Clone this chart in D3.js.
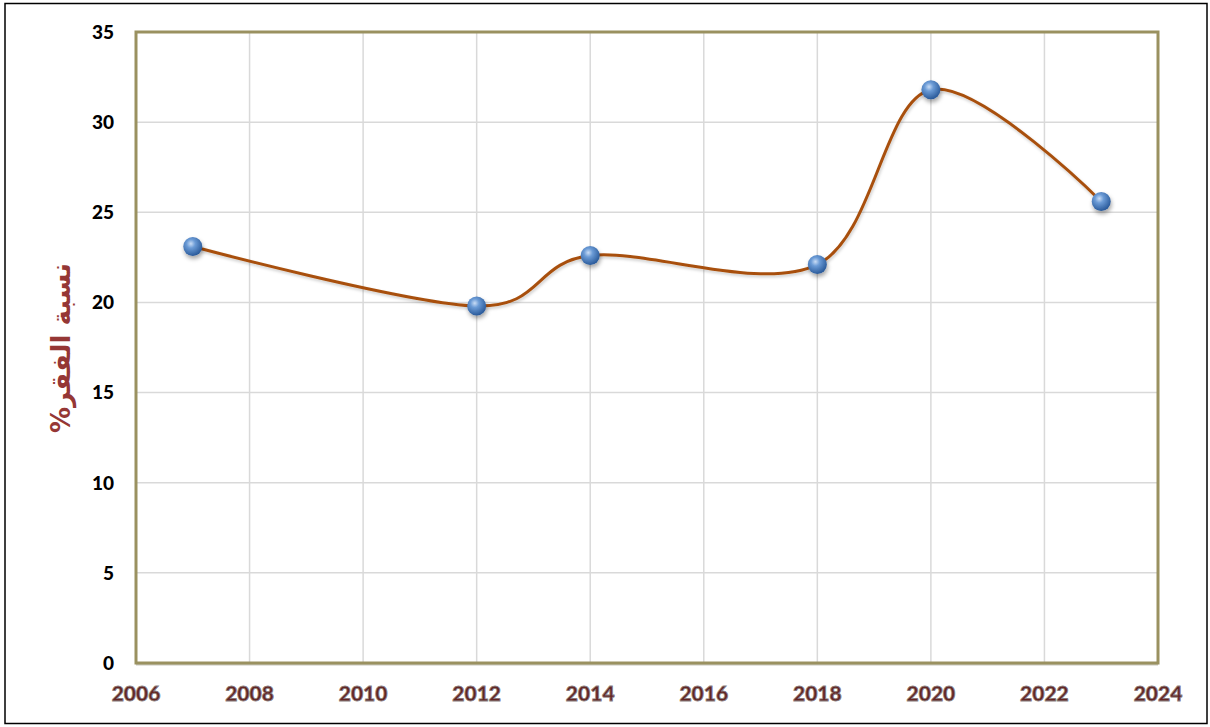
<!DOCTYPE html>
<html><head><meta charset="utf-8">
<script src="https://cdn.jsdelivr.net/npm/d3@7"></script>
<style>body{margin:0;background:#fff}svg{display:block}</style>
</head><body>
<svg id="chart" width="1210" height="727"></svg>
<script>
const years = [2007, 2012, 2014, 2018, 2020, 2023];
const povertyRate = [23.1, 19.8, 22.6, 22.1, 31.8, 25.6];
const xTicks = [2006, 2008, 2010, 2012, 2014, 2016, 2018, 2020, 2022, 2024];
const yTicks = [0, 5, 10, 15, 20, 25, 30, 35];
const yTitle = "نسبة الفقر%";

const svg = d3.select("#chart");
const L = 136, R = 1158, T = 32, B = 663;
const x = d3.scaleLinear().domain([2006, 2024]).range([L, R]);
const y = d3.scaleLinear().domain([0, 35]).range([B, T]);

const defs = svg.append("defs");
const g = defs.append("radialGradient").attr("id", "ball").attr("cx", "40%").attr("cy", "35%").attr("r", "65%");
g.append("stop").attr("offset", "0%").attr("stop-color", "#c9dcf5");
g.append("stop").attr("offset", "35%").attr("stop-color", "#6b9bd6");
g.append("stop").attr("offset", "100%").attr("stop-color", "#2a5a9a");
const f = defs.append("filter").attr("id", "sh").attr("x", "-50%").attr("y", "-50%").attr("width", "200%").attr("height", "200%");
f.append("feDropShadow").attr("dx", 1).attr("dy", 3).attr("stdDeviation", 2).attr("flood-color", "#000").attr("flood-opacity", 0.35);
const f2 = defs.append("filter").attr("id", "lsh").attr("x", "-10%").attr("y", "-10%").attr("width", "120%").attr("height", "120%");
f2.append("feDropShadow").attr("dx", 1).attr("dy", 2).attr("stdDeviation", 1.5).attr("flood-color", "#000").attr("flood-opacity", 0.2);

// outer border
svg.append("rect").attr("x", 5).attr("y", 3.5).attr("width", 1202).attr("height", 720)
  .attr("fill", "none").attr("stroke", "#000").attr("stroke-width", 1.5);

// grid
svg.append("g").selectAll("line").data(xTicks.slice(1, -1)).join("line")
  .attr("x1", d => x(d)).attr("x2", d => x(d)).attr("y1", T).attr("y2", B)
  .attr("stroke", "#d9d9d9").attr("stroke-width", 1.5);
svg.append("g").selectAll("line").data(yTicks.slice(1, -1)).join("line")
  .attr("y1", d => y(d)).attr("y2", d => y(d)).attr("x1", L).attr("x2", R)
  .attr("stroke", "#d9d9d9").attr("stroke-width", 1.5);

// plot border
svg.append("line").attr("x1", L).attr("x2", R).attr("y1", B + 1).attr("y2", B + 1).attr("stroke", "#c8c6bc").attr("stroke-width", 3);
svg.append("rect").attr("x", L).attr("y", T).attr("width", R - L).attr("height", B - T)
  .attr("fill", "none").attr("stroke", "#9a9160").attr("stroke-width", 3);

// y tick labels
svg.append("g").selectAll("text").data(yTicks).join("text")
  .attr("x", 114).attr("y", d => y(d)).attr("dy", "0.36em")
  .attr("text-anchor", "end").attr("font-family", "Lato, 'Open Sans', sans-serif")
  .attr("font-weight", "900").attr("font-size", 19).attr("fill", "#000")
  .text(d => d);

// x tick labels
svg.append("g").selectAll("text").data(xTicks).join("text")
  .attr("x", d => x(d)).attr("y", 701)
  .attr("text-anchor", "middle").attr("font-family", "Lato, 'Open Sans', sans-serif")
  .attr("font-weight", "900").attr("font-size", 21).attr("fill", "#632523")
  .attr("stroke", "#8a8080").attr("stroke-width", 0.8).attr("paint-order", "fill")
  .text(d => d);

// y title
svg.append("text").attr("transform", "translate(70,348) rotate(-90)")
  .attr("text-anchor", "middle").attr("direction", "rtl")
  .attr("font-family", "'DejaVu Sans', 'Noto Sans', sans-serif").attr("font-weight", "bold")
  .attr("font-size", 26).attr("fill", "#953735").text(yTitle);

// line
const pts = years.map((d, i) => [d, povertyRate[i]]);
svg.append("path").datum(pts)
  .attr("d", d3.line().x(d => x(d[0])).y(d => y(d[1])).curve(d3.curveCardinal.tension(0)))
  .attr("fill", "none").attr("stroke", "#a8500c").attr("stroke-width", 3).attr("filter", "url(#lsh)");

// markers
svg.append("g").selectAll("circle").data(pts).join("circle")
  .attr("cx", d => x(d[0])).attr("cy", d => y(d[1])).attr("r", 9.5)
  .attr("fill", "url(#ball)").attr("filter", "url(#sh)");
</script>
</body></html>
